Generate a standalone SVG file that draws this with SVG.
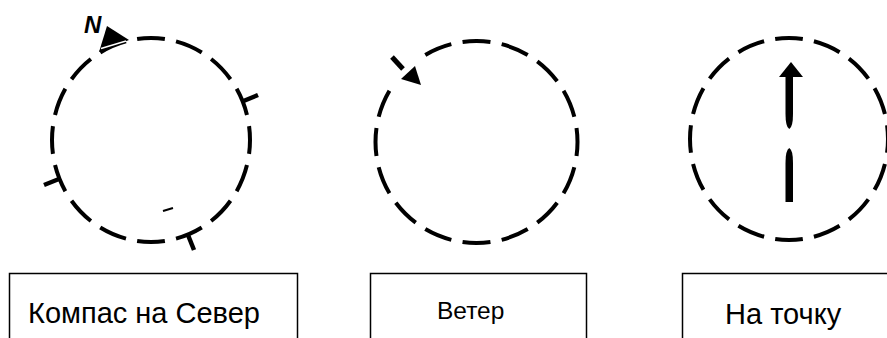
<svg xmlns="http://www.w3.org/2000/svg" width="887" height="338" viewBox="0 0 887 338">
  <style>
    .ring { fill: none; stroke: #000; stroke-width: 4; }
    .full { stroke-dasharray: 16 6.5; stroke-dashoffset: 8; }
    .tick { stroke: #000; stroke-width: 4.5; }
    .box { fill: #fff; stroke: #000; stroke-width: 1.5; }
    .lbl { font-family: "Liberation Sans", Arial, sans-serif; fill: #000; }
    .solid { fill: #000; stroke: none; }
  </style>
  <rect width="887" height="338" fill="#fff"/>

  <g id="compass-north-icon">
    <ellipse class="ring full" cx="151" cy="140" rx="99" ry="102" pathLength="360"/>
    <line class="tick" x1="243.5" y1="101" x2="258" y2="95"/>
    <line class="tick" x1="59" y1="179" x2="44" y2="185"/>
    <line class="tick" x1="188" y1="235" x2="194" y2="250"/>
    <line x1="163" y1="211" x2="173" y2="208" stroke="#000" stroke-width="2"/>
    <polygon class="solid" points="99,52 107,26 129,40"/>
    <line x1="101" y1="48.5" x2="126" y2="41" stroke="#fff" stroke-width="1.5"/>
    <text class="lbl" x="84" y="33" font-size="24" font-weight="bold" font-style="italic">N</text>
  </g>

  <g id="wind-icon">
    <circle class="ring" cx="476.5" cy="142" r="101" pathLength="360"
      stroke-dasharray="16 6.5 16 6.5 16 6.5 16 6.5 16 6.5 16 6.5 16 6.5 16 6.5 16 6.5 16 6.5 16 6.5 16 6.5 16 6.5 16 6.5 16 29"
      stroke-dashoffset="120.5"/>
    <line x1="392" y1="57" x2="403" y2="69" stroke="#000" stroke-width="5"/>
    <polygon class="solid" points="401,79 415,66 421,85"/>
  </g>

  <g id="target-icon">
    <ellipse class="ring full" cx="789" cy="139" rx="99" ry="101" pathLength="360"/>
    <polygon class="solid" points="779,77 803,77 791,62"/>
    <path class="solid" d="M785.5,76 L793,76 L793,114 Q793,127 789.3,129 Q785.5,127 785.5,114 Z"/>
    <path class="solid" d="M789.3,148 Q793,150 793,163 L793,202 L785.5,202 L785.5,163 Q785.5,150 789.3,148 Z"/>
  </g>

  <g id="label-compass">
    <rect class="box" x="9.5" y="273.5" width="288" height="80"/>
    <text class="lbl" x="28" y="323" font-size="29">Компас на Север</text>
  </g>
  <g id="label-wind">
    <rect class="box" x="370.5" y="273.5" width="216" height="80"/>
    <text class="lbl" x="437" y="319" font-size="24.5">Ветер</text>
  </g>
  <g id="label-target">
    <rect class="box" x="682.5" y="273.5" width="220" height="80"/>
    <text class="lbl" x="725" y="324" font-size="29">На точку</text>
  </g>
</svg>
